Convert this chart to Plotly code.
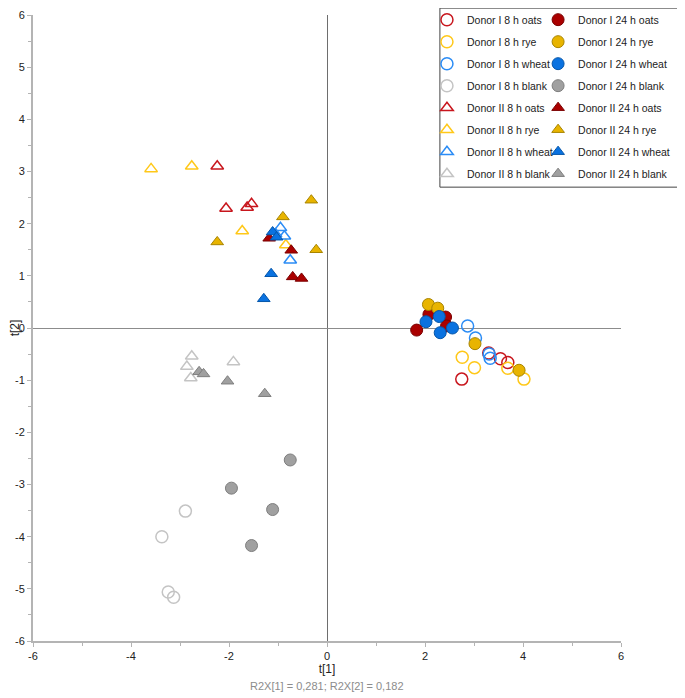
import plotly.graph_objects as go

# ---- data (t[1], t[2]) ----
d1_8_oats_x = [3.30, 3.54, 3.69, 2.75]
d1_8_oats_y = [-0.48, -0.59, -0.66, -0.98]
d1_8_rye_x = [2.76, 3.69, 3.01, 4.02]
d1_8_rye_y = [-0.56, -0.77, -0.76, -0.98]
d1_8_wheat_x = [2.87, 3.03, 3.33, 3.31]
d1_8_wheat_y = [0.04, -0.19, -0.58, -0.50]
d1_8_blank_x = [-2.89, -3.37, -3.24, -3.13]
d1_8_blank_y = [-3.51, -4.00, -5.06, -5.16]
d1_24_oats_x = [2.08, 2.42, 1.83, 2.44]
d1_24_oats_y = [0.26, 0.21, -0.04, 0.04]
d1_24_rye_x = [2.07, 2.26, 3.02, 3.92]
d1_24_rye_y = [0.45, 0.38, -0.30, -0.81]
d1_24_wheat_x = [2.29, 2.02, 2.56, 2.31]
d1_24_wheat_y = [0.22, 0.12, 0.00, -0.09]
d1_24_blank_x = [-0.75, -1.95, -1.11, -1.54]
d1_24_blank_y = [-2.53, -3.07, -3.48, -4.17]
d2_8_oats_x = [-2.24, -2.06, -1.63, -1.54]
d2_8_oats_y = [3.10, 2.29, 2.31, 2.38]
d2_8_rye_x = [-3.59, -2.76, -1.73, -0.84]
d2_8_rye_y = [3.05, 3.10, 1.86, 1.59]
d2_8_wheat_x = [-0.95, -0.87, -0.75, -1.05]
d2_8_wheat_y = [1.92, 1.76, 1.30, 1.80]
d2_8_blank_x = [-2.76, -2.86, -2.78, -1.91]
d2_8_blank_y = [-0.54, -0.74, -0.96, -0.65]
d2_24_oats_x = [-1.18, -0.73, -0.70, -0.52]
d2_24_oats_y = [1.72, 1.49, 0.98, 0.95]
d2_24_rye_x = [-0.32, -0.90, -2.24, -0.22]
d2_24_rye_y = [2.45, 2.13, 1.65, 1.50]
d2_24_wheat_x = [-1.11, -1.03, -1.14, -1.29]
d2_24_wheat_y = [1.84, 1.74, 1.04, 0.56]
d2_24_blank_x = [-2.61, -2.52, -2.03, -1.27]
d2_24_blank_y = [-0.84, -0.88, -1.02, -1.26]

x_tick_vals = [-6, -4, -2, 0, 2, 4, 6]
x_tick_text = ["-6", "-4", "-2", "0", "2", "4", "6"]
y_tick_vals = [-6, -5, -4, -3, -2, -1, 0, 1, 2, 3, 4, 5, 6]
y_tick_text = ["-6", "-5", "-4", "-3", "-2", "-1", "0", "1", "2", "3", "4", "5", "6"]
subtitle = "R2X[1] = 0,281; R2X[2] = 0,182"

open_col = {"oats": "#C8161D", "rye": "#FFC819", "wheat": "#2B8CF5", "blank": "#C4C4C4"}
fill_col = {"oats": "#AA0000", "rye": "#E8B400", "wheat": "#0A72E0", "blank": "#A0A0A0"}
edge_col = {"oats": "#7A0000", "rye": "#A88400", "wheat": "#0556AA", "blank": "#7E7E7E"}

series = [
    # name, x, y, donor, time, grain
    ("Donor I 8 h oats", d1_8_oats_x, d1_8_oats_y, 1, 8, "oats"),
    ("Donor I 8 h rye", d1_8_rye_x, d1_8_rye_y, 1, 8, "rye"),
    ("Donor I 8 h wheat", d1_8_wheat_x, d1_8_wheat_y, 1, 8, "wheat"),
    ("Donor I 8 h blank", d1_8_blank_x, d1_8_blank_y, 1, 8, "blank"),
    ("Donor II 8 h oats", d2_8_oats_x, d2_8_oats_y, 2, 8, "oats"),
    ("Donor II 8 h rye", d2_8_rye_x, d2_8_rye_y, 2, 8, "rye"),
    ("Donor II 8 h wheat", d2_8_wheat_x, d2_8_wheat_y, 2, 8, "wheat"),
    ("Donor II 8 h blank", d2_8_blank_x, d2_8_blank_y, 2, 8, "blank"),
    ("Donor I 24 h oats", d1_24_oats_x, d1_24_oats_y, 1, 24, "oats"),
    ("Donor I 24 h rye", d1_24_rye_x, d1_24_rye_y, 1, 24, "rye"),
    ("Donor I 24 h wheat", d1_24_wheat_x, d1_24_wheat_y, 1, 24, "wheat"),
    ("Donor I 24 h blank", d1_24_blank_x, d1_24_blank_y, 1, 24, "blank"),
    ("Donor II 24 h oats", d2_24_oats_x, d2_24_oats_y, 2, 24, "oats"),
    ("Donor II 24 h rye", d2_24_rye_x, d2_24_rye_y, 2, 24, "rye"),
    ("Donor II 24 h wheat", d2_24_wheat_x, d2_24_wheat_y, 2, 24, "wheat"),
    ("Donor II 24 h blank", d2_24_blank_x, d2_24_blank_y, 2, 24, "blank"),
]

fig = go.Figure()
for name, xs, ys, donor, t, grain in series:
    shape = "circle" if donor == 1 else "triangle-up"
    if t == 8:
        marker = dict(symbol=shape + "-open", size=12 if donor == 1 else 11,
                      color=open_col[grain], line=dict(width=1.5, color=open_col[grain]))
        leg = "legend"
    else:
        marker = dict(symbol=shape, size=12 if donor == 1 else 11,
                      color=fill_col[grain], line=dict(width=1, color=edge_col[grain]))
        leg = "legend2"
    fig.add_trace(go.Scatter(x=xs, y=ys, mode="markers", name=name, marker=marker,
                             legend=leg, legendgroup=name))

axis_common = dict(
    showline=True, linecolor="#B4B4B4", linewidth=2, showgrid=False,
    zeroline=True, zerolinewidth=1, ticks="outside", ticklen=4, tickwidth=1,
    tickcolor="#B4B4B4", tickfont=dict(family="Liberation Sans, Arial", size=11, color="#222"),
    mirror=False, automargin=False,
)
fig.update_xaxes(range=[-6, 6], tickvals=x_tick_vals, ticktext=x_tick_text, zerolinecolor="#6E6E6E",
                 minor=dict(dtick=1, ticks="outside", ticklen=3, tickcolor="#B4B4B4"),
                 title=dict(text="t[1]", font=dict(family="Liberation Sans, Arial", size=12, color="#222"),
                            standoff=0),
                 **axis_common)
fig.update_yaxes(range=[-6, 6], tickvals=y_tick_vals, ticktext=y_tick_text, zerolinecolor="#8C8C8C",
                 minor=dict(dtick=0.5, ticks="outside", ticklen=3, tickcolor="#B4B4B4"),
                 title=dict(text="t[2]", font=dict(family="Liberation Sans, Arial", size=12, color="#222"),
                            standoff=2),
                 **axis_common)

leg_common = dict(font=dict(family="Liberation Sans, Arial", size=10.5, color="#222"),
                  bgcolor="rgba(0,0,0,0)", borderwidth=0, tracegroupgap=3,
                  xanchor="left", yanchor="top", itemclick=False)
fig.update_layout(
    width=685, height=698,
    margin=dict(l=25, r=72, t=7, b=65, autoexpand=False),
    plot_bgcolor="white", paper_bgcolor="white",
    font=dict(family="Liberation Sans, Arial"),
    legend=dict(x=0.670, y=1.0157, **leg_common),
    legend2=dict(x=0.859, y=1.0157, **leg_common),
    shapes=[dict(type="rect", xref="paper", yref="paper", x0=0.692, x1=1.099,
                 y0=0.725, y1=1.011, line=dict(color="#444", width=1), fillcolor="rgba(0,0,0,0)")],
    annotations=[dict(text=subtitle, xref="paper", yref="paper", x=0.5, y=-0.072,
                      xanchor="center", yanchor="middle", showarrow=False,
                      font=dict(family="Liberation Sans, Arial", size=11, color="#8C8C8C"))],
    showlegend=True,
)

fig.write_html("out.html")
